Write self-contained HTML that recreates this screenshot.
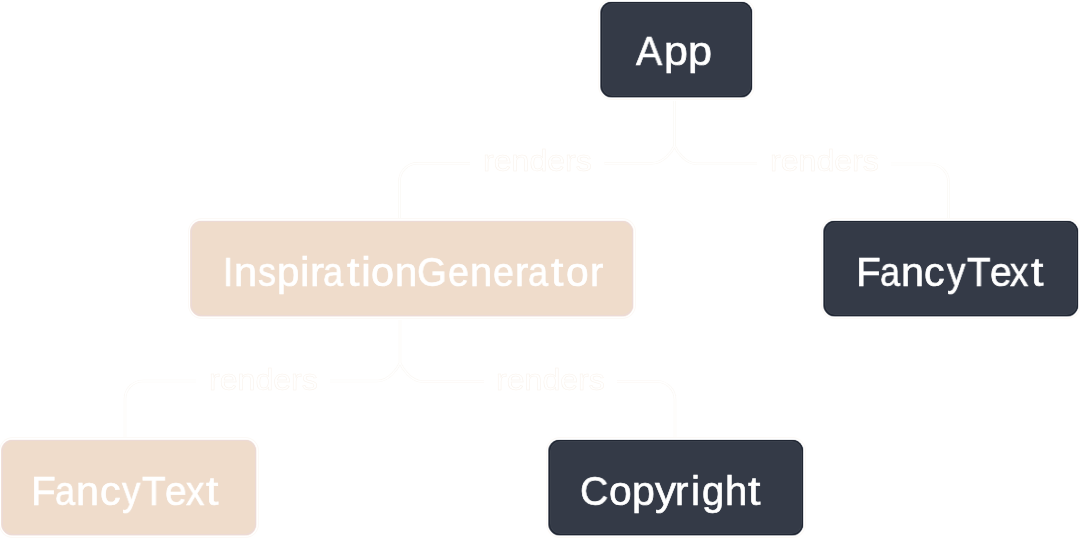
<!DOCTYPE html>
<html>
<head>
<meta charset="utf-8">
<style>
html,body{margin:0;padding:0;background:#fff;}
body{width:1080px;height:540px;overflow:hidden;position:relative;font-family:"Liberation Sans",sans-serif;}
.box{position:absolute;border-radius:11px;box-sizing:border-box;}
.dark{background:#343a47;box-shadow:inset 0 0 0 1px #1f2532,inset 0 0 0 2px #3a404c,-1px 0 0 0 rgba(52,58,71,.7),0 -1px 0 0 rgba(52,58,71,.12),1px 0 0 0 rgba(52,58,71,.18),0 1px 0 0 rgba(52,58,71,.4),0 0 0 2px #fff,0 0 0 3px #fcf9f6;}
.beige{background:#efdccb;box-shadow:inset 0 0 0 1px #ecdad6,-1px 0 0 0 rgba(238,218,208,.85),0 -1px 0 0 rgba(238,218,208,.15),1px 0 0 0 rgba(238,218,208,.3),0 1px 0 0 rgba(238,218,208,.4),0 0 0 2px #fff,0 0 0 3px #fcf9f6;}
.t{position:absolute;color:#fff;font-size:40px;line-height:1;white-space:nowrap;transform-origin:0 0;-webkit-text-stroke:0.6px #fff;will-change:transform;}
.lbl{position:absolute;color:#fff;font-size:30px;line-height:1;white-space:nowrap;transform-origin:0 0;-webkit-text-stroke:0.5px #f9f2eb;will-change:transform;}
svg{position:absolute;left:0;top:0;}
</style>
</head>
<body>
<svg width="1080" height="540" viewBox="0 0 1080 540">
  <g fill="none" stroke-linecap="butt">
    <g stroke="#fbf8f4" stroke-width="2.6">
      <path id="a1" d="M674.5 101 V146 C672.5 150.5 664 163.3 652 163.3 H604.5"/>
      <path id="a2" d="M674.5 146 C676.5 150.5 685 163.8 697 163.8 H757"/>
      <path id="a3" d="M470 163.3 H417.5 A18 18 0 0 0 399.5 181.3 V219"/>
      <path id="a4" d="M891 164 H930.5 A18 18 0 0 1 948.5 182 V219"/>
      <path id="b1" d="M400 320 V363 C398 367.5 389.5 381 377.5 381 H330"/>
      <path id="b2" d="M400 363 C402 367.5 410.5 381.5 422.5 381.5 H484"/>
      <path id="b3" d="M196 381 H143 A18 18 0 0 0 125 399 V438"/>
      <path id="b4" d="M617 381.5 H657 A18 18 0 0 1 675 399.5 V438"/>
    </g>
    <g stroke="#fff" stroke-width="1.3">
      <use href="#a1"/><use href="#a2"/><use href="#a3"/><use href="#a4"/>
      <use href="#b1"/><use href="#b2"/><use href="#b3"/><use href="#b4"/>
    </g>
  </g>
</svg>

<div class="box dark" style="left:601px;top:2px;width:151px;height:95px;"></div>
<div class="box beige" style="left:191px;top:221px;width:442px;height:95px;"></div>
<div class="box dark" style="left:824px;top:221px;width:254px;height:95px;"></div>
<div class="box beige" style="left:2px;top:440px;width:254px;height:95px;"></div>
<div class="box dark" style="left:549px;top:440px;width:254px;height:95px;"></div>


<!-- App -->
<div class="t" style="left:636.30px;top:30.7px;transform:scaleX(0.978)">A</div>
<div class="t" style="left:663.95px;top:30.7px;transform:scaleX(1.074)">p</div>
<div class="t" style="left:687.74px;top:30.7px;transform:scaleX(1.079)">p</div>
<!-- Insp -->
<div class="t" style="left:223.47px;top:251.6px;transform:scaleX(0.910)">I</div>
<div class="t" style="left:234.12px;top:251.6px;transform:scaleX(1.039)">n</div>
<div class="t" style="left:257.80px;top:251.6px;transform:scaleX(0.900)">s</div>
<div class="t" style="left:277.08px;top:251.6px;transform:scaleX(1.008)">p</div>
<div class="t" style="left:300.04px;top:251.6px;transform:scaleX(1.080)">i</div>
<div class="t" style="left:309.98px;top:251.6px;transform:scaleX(1.059)">r</div>
<div class="t" style="left:323.15px;top:251.6px;transform:scaleX(0.900)">a</div>
<div class="t" style="left:346.54px;top:251.6px;transform:scaleX(1.120)">t</div>
<div class="t" style="left:361.21px;top:251.6px;transform:scaleX(1.120)">i</div>
<div class="t" style="left:370.86px;top:251.6px;transform:scaleX(1.035)">o</div>
<div class="t" style="left:394.76px;top:251.6px;transform:scaleX(0.997)">n</div>
<div class="t" style="left:417.34px;top:251.6px;transform:scaleX(0.957)">G</div>
<div class="t" style="left:448.06px;top:251.6px;transform:scaleX(0.938)">e</div>
<div class="t" style="left:469.91px;top:251.6px;transform:scaleX(0.994)">n</div>
<div class="t" style="left:492.67px;top:251.6px;transform:scaleX(0.935)">e</div>
<div class="t" style="left:514.54px;top:251.6px;transform:scaleX(0.982)">r</div>
<div class="t" style="left:527.65px;top:251.6px;transform:scaleX(0.900)">a</div>
<div class="t" style="left:551.24px;top:251.6px;transform:scaleX(1.120)">t</div>
<div class="t" style="left:566.38px;top:251.6px;transform:scaleX(1.020)">o</div>
<div class="t" style="left:590.04px;top:251.6px;transform:scaleX(0.982)">r</div>
<!-- FTR -->
<div class="t" style="left:856.16px;top:251.6px;transform:scaleX(1.015)">F</div>
<div class="t" style="left:880.10px;top:251.6px;transform:scaleX(0.900)">a</div>
<div class="t" style="left:901.03px;top:251.6px;transform:scaleX(1.033)">n</div>
<div class="t" style="left:924.37px;top:251.6px;transform:scaleX(1.028)">c</div>
<div class="t" style="left:946.60px;top:251.6px;transform:scaleX(0.920)">y</div>
<div class="t" style="left:966.70px;top:251.6px;transform:scaleX(0.967)">T</div>
<div class="t" style="left:989.93px;top:251.6px;transform:scaleX(0.970)">e</div>
<div class="t" style="left:1010.30px;top:251.6px;transform:scaleX(0.915)">x</div>
<div class="t" style="left:1030.59px;top:251.6px;transform:scaleX(1.120)">t</div>
<!-- FTL -->
<div class="t" style="left:31.46px;top:470.7px;transform:scaleX(1.015)">F</div>
<div class="t" style="left:55.40px;top:470.7px;transform:scaleX(0.900)">a</div>
<div class="t" style="left:76.33px;top:470.7px;transform:scaleX(1.033)">n</div>
<div class="t" style="left:99.67px;top:470.7px;transform:scaleX(1.028)">c</div>
<div class="t" style="left:121.90px;top:470.7px;transform:scaleX(0.920)">y</div>
<div class="t" style="left:142.00px;top:470.7px;transform:scaleX(0.967)">T</div>
<div class="t" style="left:165.23px;top:470.7px;transform:scaleX(0.970)">e</div>
<div class="t" style="left:185.60px;top:470.7px;transform:scaleX(0.915)">x</div>
<div class="t" style="left:205.89px;top:470.7px;transform:scaleX(1.120)">t</div>
<!-- Copy -->
<div class="t" style="left:580.25px;top:470.7px;transform:scaleX(0.977)">C</div>
<div class="t" style="left:608.88px;top:470.7px;transform:scaleX(1.020)">o</div>
<div class="t" style="left:631.95px;top:470.7px;transform:scaleX(1.026)">p</div>
<div class="t" style="left:654.90px;top:470.7px;transform:scaleX(1.060)">y</div>
<div class="t" style="left:675.38px;top:470.7px;transform:scaleX(1.009)">r</div>
<div class="t" style="left:690.66px;top:470.7px;transform:scaleX(1.020)">i</div>
<div class="t" style="left:702.32px;top:470.7px;transform:scaleX(0.979)">g</div>
<div class="t" style="left:724.50px;top:470.7px;transform:scaleX(1.000)">h</div>
<div class="t" style="left:748.34px;top:470.7px;transform:scaleX(1.120)">t</div>

<div class="lbl" style="left:482.8px;top:146px;transform:scaleX(1.07);">renders</div>
<div class="lbl" style="left:769.8px;top:146px;transform:scaleX(1.07);">renders</div>
<div class="lbl" style="left:208.7px;top:364.9px;transform:scaleX(1.07);">renders</div>
<div class="lbl" style="left:495.9px;top:364.9px;transform:scaleX(1.07);">renders</div>
</body>
</html>
